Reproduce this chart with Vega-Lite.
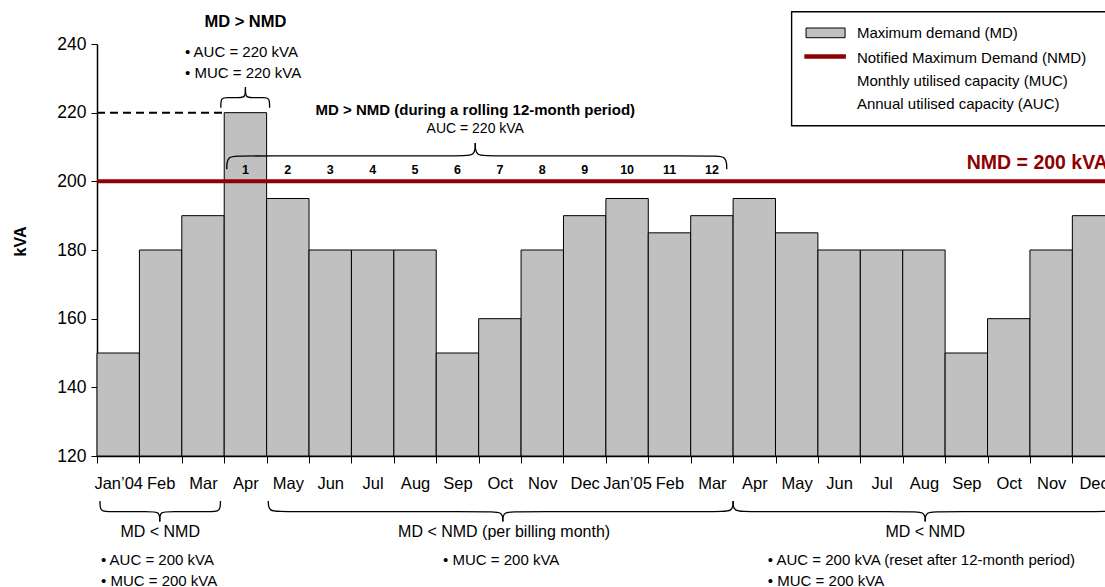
{
  "$schema": "https://vega.github.io/schema/vega-lite/v6.json",
  "autosize": "none",
  "width": 1008,
  "height": 412,
  "padding": {"left": 97, "top": 44, "right": 0, "bottom": 131},
  "background": "white",
  "config": {
    "view": {"stroke": null},
    "font": "Liberation Sans",
    "text": {"font": "Liberation Sans", "color": "black"}
  },
  "layer": [
    {
      "data": {"values": [
      {"i": 0, "month": "Jan’04", "kva": 150}, {"i": 1, "month": "Feb", "kva": 180}, {"i": 2, "month": "Mar", "kva": 190},
      {"i": 3, "month": "Apr", "kva": 220}, {"i": 4, "month": "May", "kva": 195}, {"i": 5, "month": "Jun", "kva": 180},
      {"i": 6, "month": "Jul", "kva": 180}, {"i": 7, "month": "Aug", "kva": 180}, {"i": 8, "month": "Sep", "kva": 150},
      {"i": 9, "month": "Oct", "kva": 160}, {"i": 10, "month": "Nov", "kva": 180}, {"i": 11, "month": "Dec", "kva": 190},
      {"i": 12, "month": "Jan’05", "kva": 195}, {"i": 13, "month": "Feb", "kva": 185}, {"i": 14, "month": "Mar", "kva": 190},
      {"i": 15, "month": "Apr", "kva": 195}, {"i": 16, "month": "May", "kva": 185}, {"i": 17, "month": "Jun", "kva": 180},
      {"i": 18, "month": "Jul", "kva": 180}, {"i": 19, "month": "Aug", "kva": 180}, {"i": 20, "month": "Sep", "kva": 150},
      {"i": 21, "month": "Oct", "kva": 160}, {"i": 22, "month": "Nov", "kva": 180}, {"i": 23, "month": "Dec", "kva": 190}
      ]},
      "mark": {"type": "bar", "fill": "#c0c0c0", "stroke": "black", "strokeWidth": 1, "width": 42.4, "orient": "vertical"},
      "encoding": {
        "x": {
          "field": "i", "type": "quantitative",
          "scale": {"domain": [-0.5, 23.27], "nice": false, "zero": false, "padding": 0},
          "axis": {
            "values": [-0.5, 0.5, 1.5, 2.5, 3.5, 4.5, 5.5, 6.5, 7.5, 8.5, 9.5, 10.5, 11.5, 12.5, 13.5, 14.5, 15.5, 16.5, 17.5, 18.5, 19.5, 20.5, 21.5, 22.5],
            "labelExpr": "['Jan’04','Feb','Mar','Apr','May','Jun','Jul','Aug','Sep','Oct','Nov','Dec','Jan’05','Feb','Mar','Apr','May','Jun','Jul','Aug','Sep','Oct','Nov','Dec'][round(datum.value + 0.5)]",
            "labelOffset": 21.2, "title": null, "labelAngle": 0, "labelFontSize": 16.5, "labelPadding": 12,
            "tickSize": 7, "tickColor": "black", "domainColor": "black", "domainWidth": 1.5, "labelColor": "black",
            "labelOverlap": false, "labelBound": false, "labelFlush": false, "labelFont": "Liberation Sans", "grid": false
          }
        },
        "y": {
          "field": "kva", "type": "quantitative",
          "scale": {"domain": [120, 240], "nice": false, "zero": false},
          "axis": {
            "values": [120, 140, 160, 180, 200, 220, 240], "title": "kVA", "titleFontWeight": "bold",
            "titleFontSize": 16, "titleX": -77, "titleY": 197, "titleAngle": -90, "titleAlign": "center",
            "titleBaseline": "middle", "titleColor": "black", "titleFont": "Liberation Sans",
            "labelFontSize": 17.5, "labelPadding": 5, "tickSize": 6, "tickColor": "black", "domainColor": "black",
            "domainWidth": 1.5, "grid": false, "labelColor": "black", "labelFont": "Liberation Sans"
          }
        },
        "y2": {"datum": 120}
      }
    },
    {
      "data": {"values": [{"x": 15.88, "x2": 24.5, "y": 249.41, "y2": 216.2}]},
      "mark": {"type": "rect", "fill": "white", "stroke": "black", "strokeWidth": 1.4},
      "encoding": {
        "x": {"field": "x", "type": "quantitative", "scale": {"domain": [-0.5, 23.27], "nice": false, "zero": false, "padding": 0}},
        "x2": {"field": "x2"},
        "y": {"field": "y", "type": "quantitative"},
        "y2": {"field": "y2"}
      }
    },
    {
      "data": {"values": [{"x": 16.22, "x2": 17.14, "y": 244.66, "y2": 241.83}]},
      "mark": {"type": "rect", "fill": "#c0c0c0", "stroke": "black", "strokeWidth": 1},
      "encoding": {
        "x": {"field": "x", "type": "quantitative", "scale": {"domain": [-0.5, 23.27], "nice": false, "zero": false, "padding": 0}},
        "x2": {"field": "x2"},
        "y": {"field": "y", "type": "quantitative"},
        "y2": {"field": "y2"}
      }
    },
    {
      "data": {"values": [{"x": 16.18, "x2": 17.16, "y": 236.36}]},
      "mark": {"type": "rule", "color": "#8f0000", "strokeWidth": 4.5},
      "encoding": {
        "x": {"field": "x", "type": "quantitative", "scale": {"domain": [-0.5, 23.27], "nice": false, "zero": false, "padding": 0}},
        "x2": {"field": "x2"},
        "y": {"field": "y", "type": "quantitative"}
      }
    },
    {
      "data": {"values": [
        {"x": 17.42, "y": 243.12, "text": "Maximum demand (MD)"},
        {"x": 17.42, "y": 236.01, "text": "Notified Maximum Demand (NMD)"},
        {"x": 17.42, "y": 229.22, "text": "Monthly utilised capacity (MUC)"},
        {"x": 17.42, "y": 222.44, "text": "Annual utilised capacity (AUC)"}
      ]},
      "mark": {"type": "text", "align": "left", "baseline": "middle", "fontSize": 15},
      "encoding": {
        "x": {"field": "x", "type": "quantitative", "scale": {"domain": [-0.5, 23.27], "nice": false, "zero": false, "padding": 0}},
        "y": {"field": "y", "type": "quantitative"},
        "text": {"field": "text"}
      }
    },
    {
      "data": {"values": [{"kva": 200}]},
      "mark": {"type": "rule", "color": "#8f0000", "strokeWidth": 4},
      "encoding": {"y": {"field": "kva", "type": "quantitative"}}
    },
    {
      "data": {"values": [{"x": -0.5, "x2": 2.47, "kva": 220}]},
      "mark": {"type": "rule", "color": "black", "strokeWidth": 2, "strokeDash": [8, 5]},
      "encoding": {
        "x": {"field": "x", "type": "quantitative", "scale": {"domain": [-0.5, 23.27], "nice": false, "zero": false, "padding": 0}},
        "x2": {"field": "x2"},
        "y": {"field": "kva", "type": "quantitative"}
      }
    },
    {
      "data": {"values": [
      {"seg": "a1", "o": 0, "x": 2.42, "y": 221.4}, {"seg": "a1", "o": 1, "x": 2.42, "y": 224.4}, {"seg": "a1", "o": 2, "x": 2.56, "y": 224.4}, {"seg": "a1", "o": 3, "x": 2.86, "y": 224.4}, {"seg": "a1", "o": 4, "x": 3.0, "y": 224.4}, {"seg": "a1", "o": 5, "x": 3.0, "y": 227.4},
      {"seg": "a2", "o": 0, "x": 3.0, "y": 227.4}, {"seg": "a2", "o": 1, "x": 3.0, "y": 224.4}, {"seg": "a2", "o": 2, "x": 3.14, "y": 224.4}, {"seg": "a2", "o": 3, "x": 3.43, "y": 224.4}, {"seg": "a2", "o": 4, "x": 3.57, "y": 224.4}, {"seg": "a2", "o": 5, "x": 3.57, "y": 221.4},
      {"seg": "b1", "o": 0, "x": 2.56, "y": 203.5}, {"seg": "b1", "o": 1, "x": 2.56, "y": 207.4}, {"seg": "b1", "o": 2, "x": 2.9, "y": 207.4}, {"seg": "b1", "o": 3, "x": 8.08, "y": 207.4}, {"seg": "b1", "o": 4, "x": 8.42, "y": 207.4}, {"seg": "b1", "o": 5, "x": 8.42, "y": 211.2},
      {"seg": "b2", "o": 0, "x": 8.42, "y": 211.2}, {"seg": "b2", "o": 1, "x": 8.42, "y": 207.4}, {"seg": "b2", "o": 2, "x": 8.76, "y": 207.4}, {"seg": "b2", "o": 3, "x": 14.01, "y": 207.4}, {"seg": "b2", "o": 4, "x": 14.35, "y": 207.4}, {"seg": "b2", "o": 5, "x": 14.35, "y": 203.5},
      {"seg": "c1", "o": 0, "x": -0.43, "y": 106.9}, {"seg": "c1", "o": 1, "x": -0.43, "y": 103.8}, {"seg": "c1", "o": 2, "x": -0.2, "y": 103.8}, {"seg": "c1", "o": 3, "x": 0.75, "y": 103.8}, {"seg": "c1", "o": 4, "x": 0.98, "y": 103.8}, {"seg": "c1", "o": 5, "x": 0.98, "y": 100.9},
      {"seg": "c2", "o": 0, "x": 0.98, "y": 100.9}, {"seg": "c2", "o": 1, "x": 0.98, "y": 103.8}, {"seg": "c2", "o": 2, "x": 1.21, "y": 103.8}, {"seg": "c2", "o": 3, "x": 2.18, "y": 103.8}, {"seg": "c2", "o": 4, "x": 2.41, "y": 103.8}, {"seg": "c2", "o": 5, "x": 2.41, "y": 106.9},
      {"seg": "d1", "o": 0, "x": 3.54, "y": 106.9}, {"seg": "d1", "o": 1, "x": 3.54, "y": 103.8}, {"seg": "d1", "o": 2, "x": 3.9, "y": 103.8}, {"seg": "d1", "o": 3, "x": 8.71, "y": 103.8}, {"seg": "d1", "o": 4, "x": 9.07, "y": 103.8}, {"seg": "d1", "o": 5, "x": 9.07, "y": 100.9},
      {"seg": "d2", "o": 0, "x": 9.07, "y": 100.9}, {"seg": "d2", "o": 1, "x": 9.07, "y": 103.8}, {"seg": "d2", "o": 2, "x": 9.43, "y": 103.8}, {"seg": "d2", "o": 3, "x": 14.14, "y": 103.8}, {"seg": "d2", "o": 4, "x": 14.5, "y": 103.8}, {"seg": "d2", "o": 5, "x": 14.5, "y": 106.9},
      {"seg": "e1", "o": 0, "x": 14.5, "y": 106.9}, {"seg": "e1", "o": 1, "x": 14.5, "y": 103.8}, {"seg": "e1", "o": 2, "x": 14.86, "y": 103.8}, {"seg": "e1", "o": 3, "x": 18.67, "y": 103.8}, {"seg": "e1", "o": 4, "x": 19.03, "y": 103.8}, {"seg": "e1", "o": 5, "x": 19.03, "y": 100.9},
      {"seg": "e2", "o": 0, "x": 19.03, "y": 100.9}, {"seg": "e2", "o": 1, "x": 19.03, "y": 103.8}, {"seg": "e2", "o": 2, "x": 19.39, "y": 103.8}, {"seg": "e2", "o": 3, "x": 23.2, "y": 103.8}, {"seg": "e2", "o": 4, "x": 23.56, "y": 103.8}, {"seg": "e2", "o": 5, "x": 23.56, "y": 106.9}
      ]},
      "mark": {"type": "line", "color": "black", "strokeWidth": 1.3, "interpolate": "basis"},
      "encoding": {
        "x": {"field": "x", "type": "quantitative", "scale": {"domain": [-0.5, 23.27], "nice": false, "zero": false, "padding": 0}},
        "y": {"field": "y", "type": "quantitative"},
        "detail": {"field": "seg", "type": "nominal"},
        "order": {"field": "o", "type": "quantitative"}
      }
    },
    {
      "data": {"values": [{"x": 3.0, "y": 246.4, "text": "MD > NMD"}]},
      "mark": {"type": "text", "align": "center", "baseline": "middle", "fontSize": 16.5, "fontWeight": "bold"},
      "encoding": {
        "x": {"field": "x", "type": "quantitative", "scale": {"domain": [-0.5, 23.27], "nice": false, "zero": false, "padding": 0}},
        "y": {"field": "y", "type": "quantitative"},
        "text": {"field": "text"}
      }
    },
    {
      "data": {"values": [
        {"x": 1.575, "y": 237.7, "text": "• AUC = 220 kVA"},
        {"x": 1.575, "y": 231.6, "text": "• MUC = 220 kVA"},
        {"x": -0.406, "y": 89.7, "text": "• AUC = 200 kVA"},
        {"x": -0.406, "y": 83.6, "text": "• MUC = 200 kVA"},
        {"x": 7.66, "y": 89.7, "text": "• MUC = 200 kVA"},
        {"x": 15.32, "y": 89.7, "text": "• AUC = 200 kVA (reset after 12-month period)"},
        {"x": 15.32, "y": 83.6, "text": "• MUC = 200 kVA"}
      ]},
      "mark": {"type": "text", "align": "left", "baseline": "middle", "fontSize": 15},
      "encoding": {
        "x": {"field": "x", "type": "quantitative", "scale": {"domain": [-0.5, 23.27], "nice": false, "zero": false, "padding": 0}},
        "y": {"field": "y", "type": "quantitative"},
        "text": {"field": "text"}
      }
    },
    {
      "data": {"values": [{"x": 8.42, "y": 220.8, "text": "MD > NMD (during a rolling 12-month period)"}]},
      "mark": {"type": "text", "align": "center", "baseline": "middle", "fontSize": 15, "fontWeight": "bold"},
      "encoding": {
        "x": {"field": "x", "type": "quantitative", "scale": {"domain": [-0.5, 23.27], "nice": false, "zero": false, "padding": 0}},
        "y": {"field": "y", "type": "quantitative"},
        "text": {"field": "text"}
      }
    },
    {
      "data": {"values": [{"x": 8.42, "y": 215.2, "text": "AUC = 220 kVA"}]},
      "mark": {"type": "text", "align": "center", "baseline": "middle", "fontSize": 14},
      "encoding": {
        "x": {"field": "x", "type": "quantitative", "scale": {"domain": [-0.5, 23.27], "nice": false, "zero": false, "padding": 0}},
        "y": {"field": "y", "type": "quantitative"},
        "text": {"field": "text"}
      }
    },
    {
      "data": {"values": [
        {"x": 3, "y": 203.3, "text": "1"}, {"x": 4, "y": 203.3, "text": "2"}, {"x": 5, "y": 203.3, "text": "3"},
        {"x": 6, "y": 203.3, "text": "4"}, {"x": 7, "y": 203.3, "text": "5"}, {"x": 8, "y": 203.3, "text": "6"},
        {"x": 9, "y": 203.3, "text": "7"}, {"x": 10, "y": 203.3, "text": "8"}, {"x": 11, "y": 203.3, "text": "9"},
        {"x": 12, "y": 203.3, "text": "10"}, {"x": 13, "y": 203.3, "text": "11"}, {"x": 14, "y": 203.3, "text": "12"}
      ]},
      "mark": {"type": "text", "align": "center", "baseline": "middle", "fontSize": 12.5, "fontWeight": "bold"},
      "encoding": {
        "x": {"field": "x", "type": "quantitative", "scale": {"domain": [-0.5, 23.27], "nice": false, "zero": false, "padding": 0}},
        "y": {"field": "y", "type": "quantitative"},
        "text": {"field": "text"}
      }
    },
    {
      "data": {"values": [
        {"x": 0.99, "y": 97.9, "text": "MD < NMD"},
        {"x": 9.1, "y": 97.9, "text": "MD < NMD (per billing month)"},
        {"x": 19.03, "y": 97.9, "text": "MD < NMD"}
      ]},
      "mark": {"type": "text", "align": "center", "baseline": "middle", "fontSize": 16},
      "encoding": {
        "x": {"field": "x", "type": "quantitative", "scale": {"domain": [-0.5, 23.27], "nice": false, "zero": false, "padding": 0}},
        "y": {"field": "y", "type": "quantitative"},
        "text": {"field": "text"}
      }
    },
    {
      "data": {"values": [{"x": 20.01, "y": 205.3, "text": "NMD = 200 kVA"}]},
      "mark": {"type": "text", "align": "left", "baseline": "middle", "fontSize": 19.5, "fontWeight": "bold", "color": "#8f0000"},
      "encoding": {
        "x": {"field": "x", "type": "quantitative", "scale": {"domain": [-0.5, 23.27], "nice": false, "zero": false, "padding": 0}},
        "y": {"field": "y", "type": "quantitative"},
        "text": {"field": "text"}
      }
    }
  ]
}
